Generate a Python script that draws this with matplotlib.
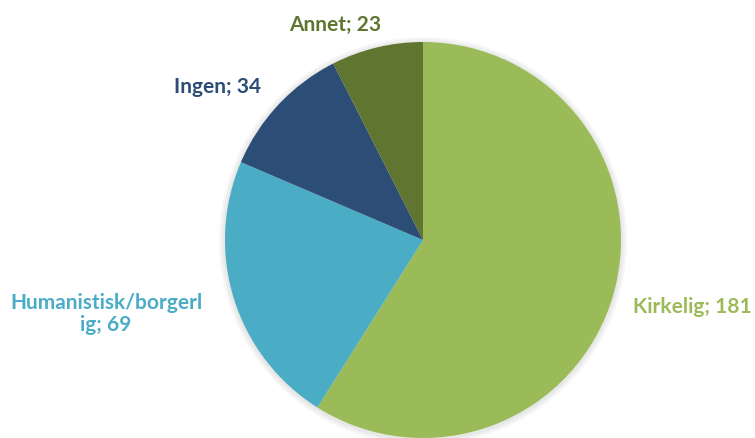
import matplotlib.pyplot as plt
import numpy as np

categories = ['Kirkelig', 'Humanistisk/borgerlig', 'Ingen', 'Annet']
values = [181, 69, 34, 23]
colors = ['#9BBB59', '#4BACC6', '#2C4D75', '#5F7530']

# label placement (pixel coords, y from bottom), text split like the original
label_text = ['Kirkelig; 181', 'Humanistisk/borgerl\nig; 69', 'Ingen; 34', 'Annet; 23']
label_pos = [(692, 132), (106, 125), (218, 352), (335, 414)]

fig = plt.figure(figsize=(7.55, 4.39), dpi=100)
ax = fig.add_axes([0, 0, 1, 1])

# soft shadow
for i, a in enumerate([0.03, 0.03, 0.03]):
    sh = plt.Circle((423, 197), 198 + 2 * (i + 1), color='black', alpha=a, lw=0)
    ax.add_patch(sh)

ax.pie(values, colors=colors, startangle=90, counterclock=False,
       center=(423, 198), radius=198, frame=True,
       wedgeprops=dict(linewidth=0))

for txt, (x, y), c in zip(label_text, label_pos, colors):
    ax.text(x, y, txt, color=c, fontsize=15, fontweight='bold',
            family='Lato', ha='center', va='center', linespacing=1.1)

ax.set_xlim(0, 755)
ax.set_ylim(0, 439)
ax.set_aspect('equal')
ax.axis('off')

plt.savefig('out.png', dpi=100)
